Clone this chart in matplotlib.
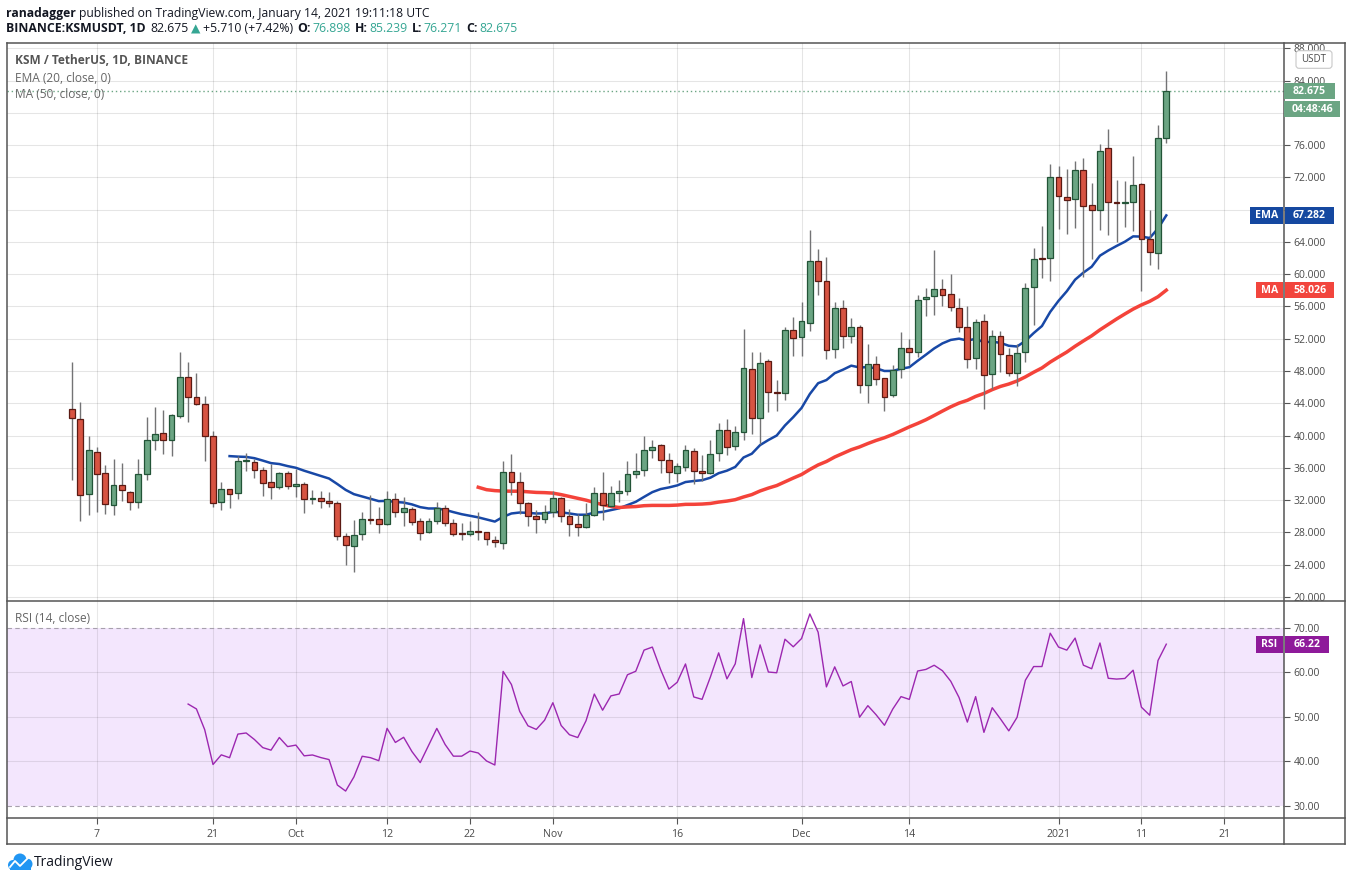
import numpy as np
import pandas as pd
import matplotlib
matplotlib.use("Agg")
import matplotlib.pyplot as plt
import matplotlib.dates as mdates
from matplotlib.patches import Rectangle, FancyBboxPatch, Circle
from matplotlib.lines import Line2D
from matplotlib.transforms import IdentityTransform

W, H = 1351, 881
FONT = ["Open Sans", "DejaVu Sans"]
plt.rcParams["font.family"] = FONT

# daily KSM/USDT candles, 2020-09-04 .. 2021-01-14
start = "2020-09-04"
opens = [43.3, 42.1, 32.7, 38.0, 35.4, 31.4, 33.9, 33.0, 31.8, 35.3, 39.4, 40.3, 39.4, 42.4, 47.3, 44.8, 43.9,
         39.9, 31.8, 33.4, 32.9, 36.8, 36.7, 35.7, 34.3, 33.6, 35.4,
         33.8, 34.0, 32.2, 32.3, 31.9, 31.6, 27.6, 26.3, 27.8, 29.7, 29.6, 29.1, 32.2, 30.5, 30.9, 29.4,
         28.1, 29.4, 31.0, 29.2, 27.9, 27.8, 28.2, 28.0, 27.1, 26.7, 35.5, 34.3, 31.6, 30.0, 29.6,
         30.5, 32.3, 30.0, 29.0, 28.7, 30.2, 32.9, 31.3, 32.9, 33.1, 35.2, 35.7, 38.2, 38.8, 37.0,
         35.4, 36.1, 38.1, 35.6, 35.4, 37.8, 40.7, 38.7, 40.5, 48.3, 42.2, 49.3, 45.4, 45.3, 53.1,
         52.2, 54.0, 61.6, 59.2, 50.7, 55.8, 52.4, 53.5, 46.3, 48.9, 47.1, 45.0, 48.2, 50.8, 50.3,
         56.9, 57.3, 58.2, 57.5, 55.8, 53.4, 49.6, 54.2, 47.6, 52.3, 50.0, 47.7, 50.3, 58.4, 62.0, 62.0,
         72.0, 69.6, 69.3, 72.9, 68.6, 68.0, 75.6, 69.0, 68.85, 69.0, 71.2, 64.4, 62.6, 76.898]
highs = [49.1, 44.2, 39.9, 38.6, 36.3, 37.1, 36.6, 33.1, 37.1, 42.3, 43.5, 43.2, 42.7, 50.4, 49.1, 47.7, 44.9,
         40.6, 34.2, 33.4, 37.5, 37.8, 37.1, 36.1, 36.5, 35.5, 35.6,
         35.9, 34.3, 33.3, 33.1, 33.0, 31.9, 27.9, 29.5, 30.5, 32.6, 31.1, 33.1, 32.9, 32.4, 31.2, 29.8,
         29.8, 31.8, 31.4, 29.7, 29.2, 29.4, 30.5, 28.1, 27.6, 36.8, 37.7, 35.5, 31.8, 30.8, 31.4,
         33.1, 32.4, 30.9, 30.3, 31.6, 33.6, 35.5, 33.8, 34.5, 36.8, 37.9, 39.9, 39.5, 38.9, 37.9,
         36.6, 38.8, 38.5, 37.6, 39.5, 41.5, 42.1, 41.2, 53.2, 50.4, 50.3, 49.5, 46.9, 53.5, 54.7,
         56.6, 65.5, 63.1, 62.1, 56.6, 56.8, 54.6, 53.7, 51.4, 49.9, 47.1, 48.8, 52.8, 52.0, 57.4,
         58.3, 63.0, 59.4, 60.0, 57.0, 56.1, 54.5, 55.1, 53.1, 53.0, 50.9, 51.4, 58.9, 63.3, 66.0, 73.6,
         73.4, 73.0, 74.0, 74.4, 71.3, 76.1, 78.0, 71.7, 71.5, 74.6, 71.3, 68.0, 78.5, 85.239]
lows = [34.5, 29.4, 30.1, 30.5, 30.3, 30.2, 31.9, 30.8, 31.0, 34.5, 38.2, 37.7, 37.5, 42.2, 41.7, 43.8, 36.9,
        31.1, 30.8, 31.0, 32.1, 35.6, 34.8, 32.5, 32.1, 33.4, 33.4,
        32.4, 30.4, 31.5, 31.0, 31.1, 27.0, 24.0, 23.1, 27.0, 29.1, 27.9, 28.9, 29.9, 28.8, 28.9, 27.0,
        27.9, 29.0, 28.8, 27.5, 27.1, 27.5, 27.1, 26.4, 26.2, 26.0, 32.6, 30.3, 28.8, 27.9, 29.2,
        29.9, 29.3, 27.6, 27.5, 28.5, 30.0, 29.5, 31.1, 31.8, 32.6, 34.7, 35.0, 37.2, 35.4, 34.1,
        34.2, 35.6, 34.0, 34.4, 35.2, 36.9, 37.6, 38.2, 39.5, 40.2, 38.9, 42.9, 43.1, 44.4, 49.9,
        49.9, 52.9, 57.4, 49.5, 49.6, 50.9, 51.5, 45.3, 44.0, 46.3, 43.1, 44.8, 47.1, 48.7, 49.7,
        54.8, 54.9, 56.0, 55.5, 52.8, 48.4, 48.2, 43.3, 45.8, 47.9, 47.4, 46.2, 49.1, 53.7, 59.5, 59.1,
        65.6, 65.0, 65.7, 59.7, 61.9, 65.5, 64.9, 64.0, 65.9, 65.4, 57.9, 61.1, 60.7, 76.271]
closes = [42.2, 32.6, 38.2, 35.3, 31.5, 33.9, 33.2, 31.8, 35.3, 39.4, 40.2, 39.4, 42.5, 47.2, 44.8, 43.9, 39.9,
          31.7, 33.4, 32.7, 36.8, 37.0, 35.7, 34.1, 33.6, 35.4, 33.8,
          34.0, 32.2, 32.3, 31.9, 31.6, 27.5, 26.4, 27.7, 29.7, 29.5, 29.1, 32.2, 30.5, 31.0, 29.3, 27.9,
          29.4, 31.0, 29.2, 27.8, 27.8, 28.2, 28.0, 27.2, 26.8, 35.5, 34.3, 31.6, 30.0, 29.6, 30.5,
          32.3, 30.0, 29.0, 28.7, 30.2, 32.9, 31.4, 32.9, 33.1, 35.2, 35.6, 38.2, 38.6, 37.0, 35.5,
          36.2, 38.2, 35.6, 35.4, 37.7, 40.7, 38.6, 40.5, 48.4, 42.2, 49.0, 45.4, 45.3, 53.1, 52.1,
          54.2, 61.6, 59.2, 50.6, 55.8, 52.3, 53.4, 46.3, 48.9, 47.0, 44.8, 48.1, 50.8, 50.3, 56.8,
          57.2, 58.2, 57.4, 55.9, 53.5, 49.5, 54.1, 47.5, 52.3, 50.1, 47.7, 50.2, 58.3, 61.9, 61.9, 72.0,
          69.7, 69.2, 72.9, 68.5, 67.9, 75.3, 69.0, 68.85, 69.0, 71.0, 64.4, 62.8, 76.9, 82.675]

tick_dates = ["2020-09-07", "2020-09-21", "2020-10-01", "2020-10-12", "2020-10-22", "2020-11-01",
              "2020-11-16", "2020-12-01", "2020-12-14", "2021-01-01", "2021-01-11", "2021-01-21"]
tick_labels = ["7", "21", "Oct", "12", "22", "Nov", "16", "Dec", "14", "2021", "11", "21"]
price_ticks = np.arange(20, 89, 4)
hidden_ticks = (68, 80)  # covered by the EMA / countdown labels in the original
rsi_ticks = [30, 40, 50, 60, 70]

last_price, ema_last, ma_last, rsi_last = 82.675, 67.282, 58.026, 66.22

UP, UP_EDGE = "#6ba583", "#225437"
DN, DN_EDGE = "#d75442", "#5b1a13"
WICK = "#737375"
EMA_C, MA_C, RSI_C = "#1848a6", "#f4433a", "#9c27b0"
TXT = "#4a4a4a"
FRAME = "#555555"

o, h, l, c = (np.array(v, dtype=float) for v in (opens, highs, lows, closes))
n = len(c)
dates = pd.date_range(start, periods=n, freq="D")
x = mdates.date2num(dates)

# indicators as TradingView computes them
ema = np.full(n, np.nan)
alpha = 2 / 21
ema[19] = c[:20].mean()
for i in range(20, n):
    ema[i] = alpha * c[i] + (1 - alpha) * ema[i - 1]
ma = pd.Series(c).rolling(50).mean().values
d = np.diff(c)
gain, loss = np.clip(d, 0, None), np.clip(-d, 0, None)
rsi = np.full(n, np.nan)
ag, al = gain[:14].mean(), loss[:14].mean()
rsi[14] = 100 - 100 / (1 + ag / al)
for i in range(15, n):
    ag = (ag * 13 + gain[i - 1]) / 14
    al = (al * 13 + loss[i - 1]) / 14
    rsi[i] = 100 - 100 / (1 + ag / al)

fig = plt.figure(figsize=(W / 100, H / 100), dpi=100, facecolor="white")
ID = IdentityTransform()


def P(px, py):
    return px, H - py


ax = fig.add_axes([7 / W, 1 - 601 / H, 1277 / W, 558 / H])
rax = fig.add_axes([7 / W, 1 - 817.7 / H, 1277 / W, 216.7 / H], sharex=ax)
x0 = x[0]
ax.set_xlim(x0 - 7.85, x0 + 146.2)
ax.set_ylim(19.5, 88.65)
rax.set_ylim(27.3, 76.0)

for a in (ax, rax):
    for s in a.spines.values():
        s.set_visible(False)
    a.set_facecolor("none")

# candles
up = c >= o
ax.vlines(x, l, h, color=WICK, lw=1.0, zorder=3)
body = np.maximum(np.abs(c - o), 0.12)
bot = np.minimum(o, c)
ax.bar(x[up], body[up], bottom=bot[up], width=0.7, color=UP, edgecolor=UP_EDGE, lw=0.9, zorder=4)
ax.bar(x[~up], body[~up], bottom=bot[~up], width=0.7, color=DN, edgecolor=DN_EDGE, lw=0.9, zorder=4)
ax.plot(x, ema, color=EMA_C, lw=1.8, zorder=2)
ax.plot(x, ma, color=MA_C, lw=2.5, zorder=2)
ax.axhline(last_price, color=UP, ls=(0, (1, 2)), lw=1.0, zorder=1)

ax.set_yticks(price_ticks)
ax.set_yticklabels(["" if v in hidden_ticks else f"{v:.3f}" for v in price_ticks])
ax.yaxis.tick_right()
ax.tick_params(axis="y", length=4, width=0.8, color=FRAME, labelsize=7.5, labelcolor=TXT, pad=3)
ax.tick_params(axis="x", length=0, labelbottom=False)
ax.grid(True, color="black", alpha=0.1, lw=0.8, zorder=0)
ax.set_axisbelow(True)

# RSI panel
rax.axhspan(30, 70, color="#f3e6fd", zorder=0, lw=0)
rax.axhline(70, color="#a7a0ad", ls=(0, (4, 3)), lw=0.8, zorder=1)
rax.axhline(30, color="#a7a0ad", ls=(0, (4, 3)), lw=0.8, zorder=1)
for v in (40, 50, 60):
    rax.axhline(v, color="black", alpha=0.09, lw=0.8, zorder=1)
rax.plot(x, rsi, color=RSI_C, lw=1.0, zorder=3)
rax.set_yticks(rsi_ticks)
rax.set_yticklabels([f"{v:.2f}" for v in rsi_ticks])
rax.yaxis.tick_right()
rax.tick_params(axis="y", length=4, width=0.8, color=FRAME, labelsize=7.5, labelcolor=TXT, pad=3)
rax.set_xticks(mdates.date2num(pd.to_datetime(tick_dates)))
rax.set_xticklabels(tick_labels)
rax.tick_params(axis="x", length=4, width=0.8, color=FRAME, labelsize=7.6, labelcolor=TXT, pad=4)
rax.grid(True, axis="x", color="black", alpha=0.09, lw=0.8, zorder=1)
rax.set_axisbelow(True)

# frame
def line(x1, y1, x2, y2):
    fig.add_artist(Line2D([x1, x2], [H - y1, H - y2], transform=ID, color=FRAME, lw=1.1, zorder=6))

line(7, 43, 1345, 43)
line(7, 844, 1345, 844)
line(7, 43, 7, 844)
line(1345, 43, 1345, 844)
line(7, 601, 1345, 601)
line(7, 817.7, 1345, 817.7)
line(1284, 43, 1284, 844)


def tag(xa, xb, yc, hh, color, text, size=7.6):
    fig.add_artist(Rectangle((xa, yc - hh / 2), xb - xa, hh, transform=ID, facecolor=color,
                             edgecolor="none", zorder=7))
    fig.text((xa + xb) / 2, yc, text, transform=ID, ha="center", va="center", color="white",
             fontsize=size, weight="bold", zorder=8)


def ypix(axis, v):
    return axis.transData.transform((x0, v))[1]


yp = ypix(ax, last_price)
tag(1284, 1335, yp, 16.5, UP, f"{last_price:.3f}")
tag(1284, 1340, yp - 18, 16.5, UP, "04:48:46")
ye = ypix(ax, ema_last)
tag(1250, 1283, ye, 16.5, "#1548a0", "EMA")
tag(1285, 1334, ye, 16.5, "#1548a0", f"{ema_last:.3f}")
ym = ypix(ax, ma_last)
tag(1256, 1283, ym, 16.5, "#f2453d", "MA")
tag(1285, 1334, ym, 16.5, "#f2453d", f"{ma_last:.3f}")
yr = ypix(rax, rsi_last)
tag(1256, 1283, yr, 16.5, "#8e1a9a", "RSI")
tag(1285, 1329, yr, 16.5, "#8e1a9a", f"{rsi_last:.2f}")

fig.add_artist(FancyBboxPatch((1296, H - 68.3), 36, 17.6, boxstyle="round,pad=0,rounding_size=3",
                              transform=ID, facecolor="white", edgecolor="#c8c8c8", lw=0.8, zorder=7))
fig.text(1314, H - 59.5, "USDT", transform=ID, ha="center", va="center", color=TXT, fontsize=7, zorder=8)

# legends inside panels
fig.text(*P(15, 61), "KSM / TetherUS, 1D, BINANCE", transform=ID, va="center", fontsize=8.6,
         weight="bold", color="#555555")
fig.text(*P(15, 78), "EMA (20, close, 0)", transform=ID, va="center", fontsize=8.6, color="#666666")
fig.text(*P(15, 95), "MA (50, close, 0)", transform=ID, va="center", fontsize=8.6, color="#666666")
fig.text(*P(15, 619), "RSI (14, close)", transform=ID, va="center", fontsize=8.6, color="#666666")

# header runs
renderer = fig.canvas.get_renderer()


def runs(px, py, items, size):
    for text, weight, color, gap in items:
        t = fig.text(px, H - py, text, transform=ID, va="center", ha="left", fontsize=size,
                     weight=weight, color=color, family=FONT)
        px = t.get_window_extent(renderer).x1 + gap


TEAL = "#35a693"
DARK = "#131722"
runs(6, 13, [("ranadagger", "bold", DARK, 3.6),
             ("published on TradingView.com, January 14, 2021 19:11:18 UTC", "normal", DARK, 0)], 8.7)
runs(6, 29, [("BINANCE:KSMUSDT, 1D", "bold", DARK, 4.5), ("82.675", "normal", DARK, 2.5),
             ("\u25b2", "normal", TEAL, 2.5), ("+5.710 (+7.42%)", "normal", DARK, 4.5),
             ("O:", "bold", DARK, 1.2), ("76.898", "normal", TEAL, 4.5),
             ("H:", "bold", DARK, 1.2), ("85.239", "normal", TEAL, 4.5),
             ("L:", "bold", DARK, 1.2), ("76.271", "normal", TEAL, 4.5),
             ("C:", "bold", DARK, 1.2), ("82.675", "normal", TEAL, 0)], 8.8)

# TradingView logo
for cx, cy, r in [(13, 865, 5), (20, 860, 6.5), (27, 864, 5.5)]:
    fig.add_artist(Circle((cx, H - cy), r, transform=ID, facecolor="#2196f3", edgecolor="none"))
fig.add_artist(Rectangle((10, H - 870), 21, 6, transform=ID, facecolor="#2196f3", edgecolor="none"))
fig.add_artist(Line2D([10, 15, 20, 29], [H - 867, H - 861, H - 866, H - 857], transform=ID,
                      color="white", lw=1.3))
fig.text(*P(34, 862), "TradingView", transform=ID, va="center", fontsize=10, color=DARK)

fig.savefig("out.png", dpi=100, facecolor="white")
